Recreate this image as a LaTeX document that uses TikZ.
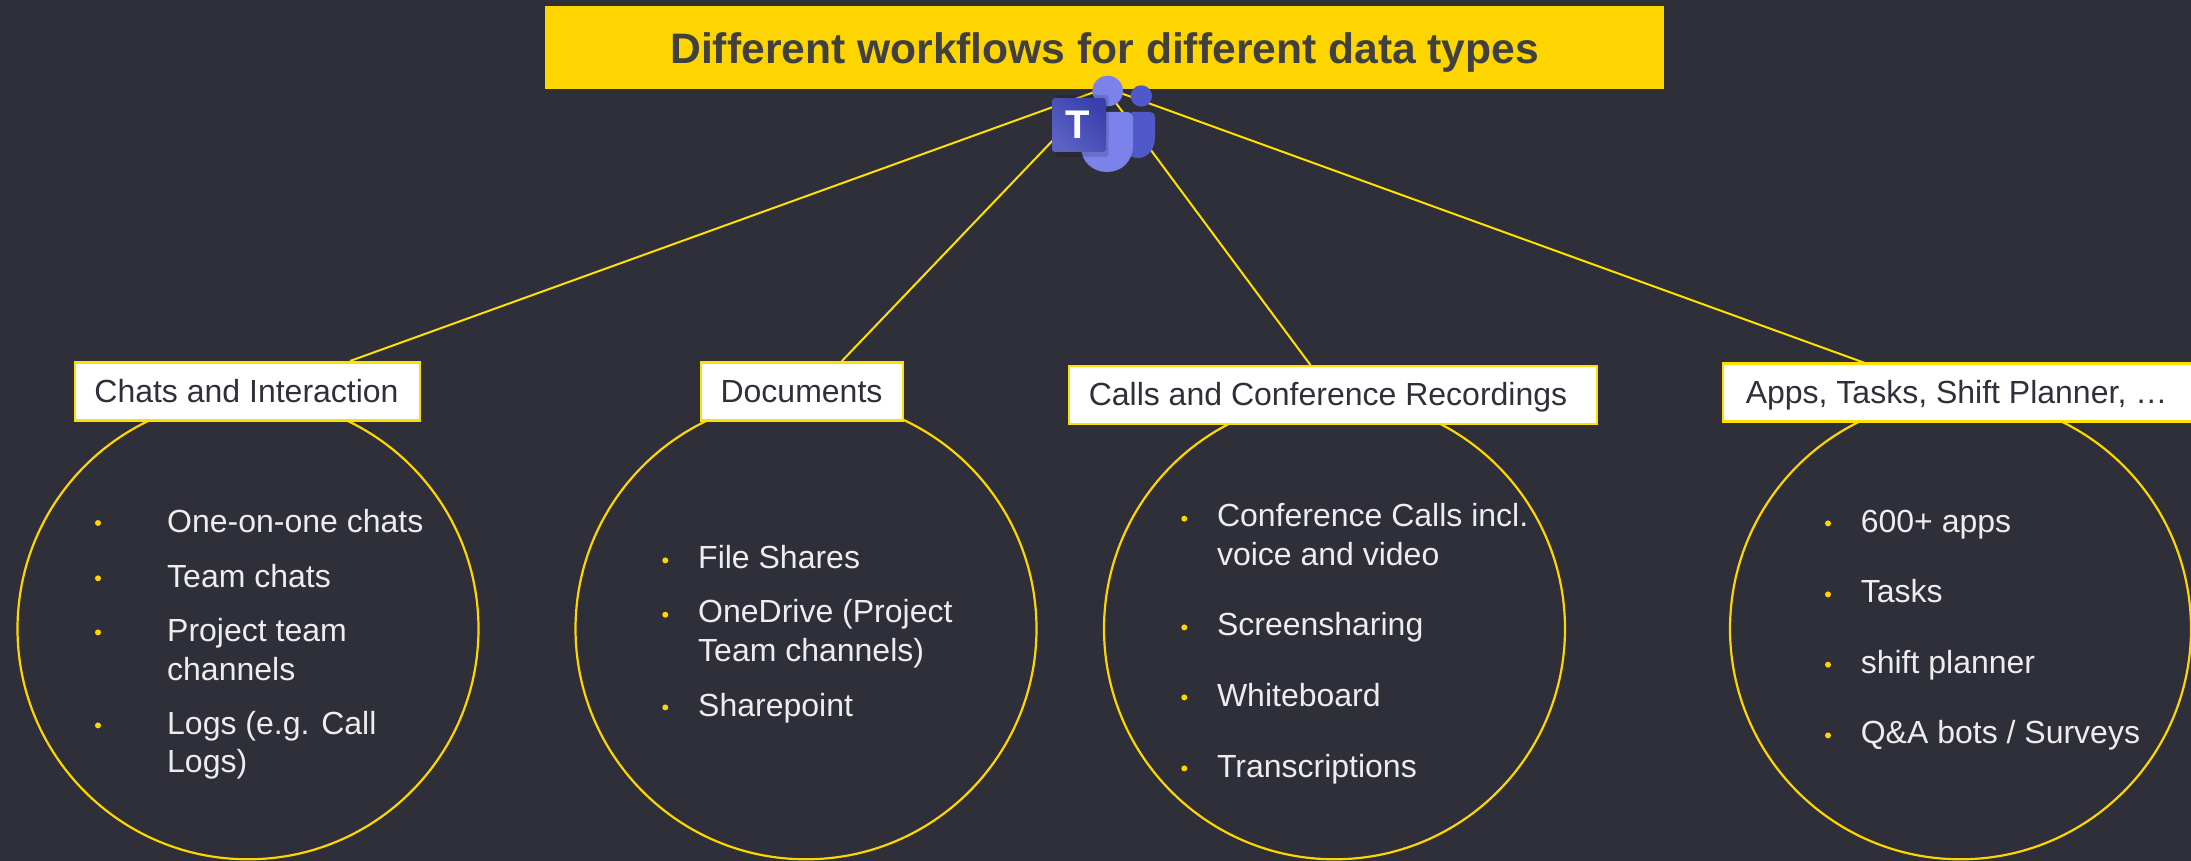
\documentclass[tikz,border=0pt]{standalone}
\usepackage{fontspec}
\setmainfont{Liberation Sans}
\definecolor{bgdark}{HTML}{2E2F39}
\definecolor{goldfill}{HTML}{FFD500}
\definecolor{linegold}{HTML}{FFE000}
\definecolor{titleink}{HTML}{404040}
\definecolor{labelink}{HTML}{2F303A}
\definecolor{listink}{HTML}{EDEDED}
\definecolor{teamslight}{HTML}{7B83EB}
\definecolor{teamsmid}{HTML}{5059C9}
\definecolor{teamsa}{HTML}{5A62C3}
\definecolor{teamsb}{HTML}{3940AB}
\tikzset{
  titlebox/.style={fill=goldfill,text=titleink,inner sep=0pt,anchor=north west,minimum width=1119pt,minimum height=83pt,
    font=\fontsize{42.6}{50}\selectfont\bfseries,text height=57pt,text depth=26pt},
  labelbox/.style={fill=white,draw=linegold,line width=2.4pt,text=labelink,inner sep=0pt,anchor=north west,minimum height=58pt,
    font=\fontsize{32}{38}\selectfont,text height=39.9pt,text depth=18.1pt},
  ring/.style={draw=goldfill,line width=2.2pt,circle,minimum size=461pt,inner sep=0pt},
  spoke/.style={draw=linegold,line width=2pt},
  item/.style={text=listink,inner sep=0pt,anchor=base west,font=\fontsize{32}{38.6}\selectfont},
  dotmark/.style={fill=goldfill}
}
\begin{document}
\begin{tikzpicture}[x=1pt,y=-1pt]
\useasboundingbox (0,0) rectangle (2191,861);
\fill[bgdark] (0,0) rectangle (2191,861);
% rings
\node[ring] (ringa) at (248,628.8) {};
\node[ring] (ringb) at (806,628.8) {};
\node[ring] (ringc) at (1334.5,628.8) {};
\node[ring] (ringd) at (1960.5,628.8) {};
% connector ends
\coordinate (huba) at (1100,90);
\coordinate (hubb) at (1078,114);
\coordinate (hubc) at (1110,95);
\coordinate (hubd) at (1115,91);
\coordinate (enda) at (350,361);
\coordinate (endb) at (841,362);
\coordinate (endc) at (1310.4,365);
\coordinate (endd) at (1865,363);
\draw[spoke] (huba) -- (enda);
\draw[spoke] (hubb) -- (endb);
\draw[spoke] (hubc) -- (endc);
\draw[spoke] (hubd) -- (endd);
% title
\node[titlebox] (title) at (545,6) {Different workflows for different data types};
% labels
\node[labelbox,minimum width=345pt] (laba) at (73.8,361.4) {Chats and Interaction\hspace*{2pt}};
\node[labelbox,minimum width=202pt] (labb) at (699.8,361.4) {Documents\hspace*{1pt}};
\node[labelbox,minimum width=528pt] (labc) at (1067.8,364.8) {Calls and Conference Recordings\hspace*{10pt}};
\node[labelbox,minimum width=470pt] (labd) at (1721.8,362.4) {Apps, Tasks, Shift Planner, …\hspace*{3pt}};
% list a
\node[item] (a1) at (167,532.5) {One-on-one chats};
\node[item] (a2) at (167,587.5) {Team chats};
\node[item] (a3) at (167,641.5) {Project team};
\node[item] (a4) at (167,680) {channels};
\node[item] (a5) at (167,734) {Logs (e.g. Call};
\node[item] (a6) at (167,772.5) {Logs)};
\foreach \y in {523,578.3,632.4,725.4} \fill[dotmark] (98,\y) circle[radius=3pt];
% list b
\node[item] (b1) at (698,568.5) {File Shares};
\node[item] (b2) at (698,622.9) {OneDrive (Project};
\node[item] (b3) at (698,661.7) {Team channels)};
\node[item] (b4) at (698,716) {Sharepoint};
\foreach \y in {560.4,614.7,707.4} \fill[dotmark] (665.3,\y) circle[radius=3pt];
% list c
\node[item] (c1) at (1216.8,526.7) {Conference Calls incl.};
\node[item] (c2) at (1216.8,565) {voice and video};
\node[item] (c3) at (1216.8,635.9) {Screensharing};
\node[item] (c4) at (1216.8,706.3) {Whiteboard};
\node[item] (c5) at (1216.8,777) {Transcriptions};
\foreach \y in {518.7,627.4,697.4,768.4} \fill[dotmark] (1184.3,\y) circle[radius=3pt];
% list d
\node[item] (d1) at (1860.6,532.5) {600+ apps};
\node[item] (d2) at (1860.6,602.8) {Tasks};
\node[item] (d3) at (1860.6,673.2) {shift planner};
\node[item] (d4) at (1860.6,743.8) {Q\&A bots / Surveys};
\foreach \y in {523.4,594.4,664.7,735.4} \fill[dotmark] (1828,\y) circle[radius=3pt];
% teams icon
\fill[teamsmid] (1132,112) -- (1150,112) .. controls (1153,112) and (1155,114) .. (1155,117) -- (1155,137)
  .. controls (1155,149) and (1148,158) .. (1138,158) .. controls (1128,158) and (1122,150) .. (1122,140) -- cycle;
\fill[teamsmid] (1141.3,96) circle[radius=10.7pt];
\fill[teamslight] (1095,112) -- (1127,112) .. controls (1130.5,112) and (1133,114.5) .. (1133,118) -- (1133,145)
  .. controls (1133,161) and (1122,172) .. (1107,172) .. controls (1092,172) and (1081,161) .. (1081,147) -- cycle;
\fill[teamslight] (1107.7,91) circle[radius=15.3pt];
\fill[black,opacity=0.14,rounded corners=3pt] (1055,95) rectangle (1108.5,157);
\shade[rounded corners=3pt,left color=teamsa,right color=teamsb,shading angle=135] (1052,98) rectangle (1106,152);
\node[inner sep=0pt,anchor=base,text=white,font=\fontsize{40}{44}\selectfont\bfseries] (tee) at (1078,138.3) {T};
\end{tikzpicture}
\end{document}
